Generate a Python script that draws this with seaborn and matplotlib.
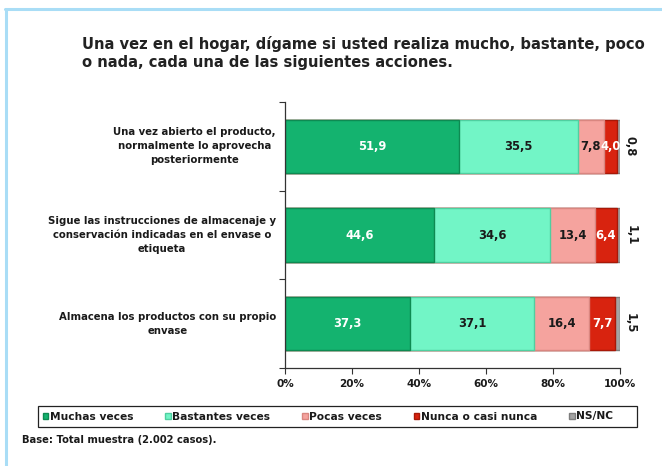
import matplotlib
matplotlib.use("Agg")
import matplotlib.pyplot as plt
from matplotlib.patches import Patch, Rectangle
from matplotlib.lines import Line2D
import seaborn as sns
import pandas as pd
import numpy as np

# Survey items (top to bottom)
items = [
    "Una vez abierto el producto,\nnormalmente lo aprovecha\nposteriormente",
    "Sigue las instrucciones de almacenaje y\nconservación indicadas en el envase o\netiqueta",
    "Almacena los productos con su propio\nenvase",
]
answers = ["Muchas veces", "Bastantes veces", "Pocas veces", "Nunca o casi nunca", "NS/NC"]

muchas = [51.9, 44.6, 37.3]
bastantes = [35.5, 34.6, 37.1]
pocas = [7.8, 13.4, 16.4]
nunca = [4.0, 6.4, 7.7]
nsnc = [0.8, 1.1, 1.5]

fills = ["#14B36F", "#72F5C6", "#F5A39E", "#D8230F", "#A3A3A3"]
edges = ["#0E8A52", "#4FCFA0", "#D98680", "#A81807", "#7D7D7D"]
label_colors = ["white", "#1A1A1A", "#1A1A1A", "white", "#1A1A1A"]

series = [muchas, bastantes, pocas, nunca, nsnc]
df = pd.DataFrame({"item": items})
for name, vals in zip(answers, series):
    df[name] = vals
cum = df[answers].cumsum(axis=1)

sns.set_theme(style="white")
plt.rcParams["font.family"] = ["DejaVu Sans"]
plt.rcParams["font.weight"] = "bold"

fig = plt.figure(figsize=(6.62, 4.66), dpi=100)
ax = fig.add_axes([0.4305, 0.2103, 0.5061, 0.5708])

# Stacked bars: draw cumulative totals from the outermost segment inwards
for i in range(len(answers) - 1, -1, -1):
    sns.barplot(x=cum[answers[i]], y=df["item"], orient="h", ax=ax,
                color=fills[i], edgecolor=edges[i], linewidth=1.0,
                width=0.6, saturation=1)

# Segment value labels
fmt = lambda v: f"{v:.1f}".replace(".", ",")
for r in range(len(items)):
    for i, name in enumerate(answers):
        v = df.loc[r, name]
        end = cum.loc[r, name]
        mid = end - v / 2
        if name == "NS/NC":
            ax.annotate(fmt(v), xy=(end, r), xytext=(7.5, 0), textcoords="offset points",
                        ha="center", va="center", rotation=-90, fontsize=8.3,
                        fontweight="bold", color=label_colors[i], annotation_clip=False)
        else:
            ax.text(mid, r, fmt(v), ha="center", va="center", fontsize=8.3,
                    fontweight="bold", color=label_colors[i])

ax.set_xlim(0, 100)
ax.set_ylim(2.5, -0.5)
ax.set_xticks(np.arange(0, 101, 20))
ax.set_xticklabels([f"{t}%" for t in range(0, 101, 20)])
ax.set_xlabel("")
ax.set_ylabel("")

# Category labels: centred multi-line blocks right next to the axis
ax.set_yticks(range(len(items)))
ax.set_yticklabels([])
for r, name in enumerate(items):
    ax.annotate(name, xy=(0, r), xycoords=("axes fraction", "data"),
                xytext=(-6.5, 0), textcoords="offset points",
                ha="right", va="center", multialignment="center", linespacing=1.5,
                fontsize=7.3, fontweight="bold", color="#1A1A1A", annotation_clip=False)
ax.set_yticks([-0.5, 0.5, 1.5, 2.5], minor=True)
ax.tick_params(axis="y", which="major", length=0)
ax.tick_params(axis="y", which="minor", length=4, width=0.8, color="#333333", direction="out", left=True)
ax.tick_params(axis="x", which="major", length=4, width=0.8, color="#333333", direction="out",
               bottom=True, labelsize=7.5, labelcolor="#1A1A1A", pad=4)
for t in ax.get_xticklabels():
    t.set_fontweight("bold")

for s in ["top", "right"]:
    ax.spines[s].set_visible(False)
for s in ["left", "bottom"]:
    ax.spines[s].set_color("#333333")
    ax.spines[s].set_linewidth(0.9)

# Title
fig.text(82 / 662, 1 - 36 / 466,
         "Una vez en el hogar, dígame si usted realiza mucho, bastante, poco\no nada, cada una de las siguientes acciones.",
         ha="left", va="top", fontsize=10.6, fontweight="bold", color="#222222", linespacing=1.25)

# Legend inside a plain rectangular frame
handles = [Patch(facecolor=fills[i], edgecolor=edges[i], label=answers[i]) for i in range(len(answers))]
leg = fig.legend(handles=handles, loc="center", bbox_to_anchor=(328 / 662, 1 - 416.5 / 466),
                 ncol=5, frameon=False, handlelength=0.5, handleheight=0.5,
                 handletextpad=0.15, columnspacing=3.0, borderpad=0.2,
                 prop={"weight": "bold", "size": 7.7})
for t in leg.get_texts():
    t.set_color("#1A1A1A")
fig.add_artist(Rectangle((38 / 662, 1 - 427 / 466), (637 - 38) / 662, 21 / 466,
                         transform=fig.transFigure, fill=False, edgecolor="#222222", linewidth=0.9))

fig.text(22 / 662, 1 - 440 / 466, "Base: Total muestra (2.002 casos).",
         ha="left", va="center", fontsize=7.2, fontweight="bold", color="#1A1A1A")

# Light blue frame on the top and left edges
fig.add_artist(Line2D([5 / 662, 1.0], [1 - 9 / 466, 1 - 9 / 466], transform=fig.transFigure,
                      color="#A9DDF6", linewidth=2.2))
fig.add_artist(Line2D([6 / 662, 6 / 662], [1 - 9 / 466, 0.0], transform=fig.transFigure,
                      color="#A9DDF6", linewidth=2.2))

fig.savefig("out.png", dpi=100)
